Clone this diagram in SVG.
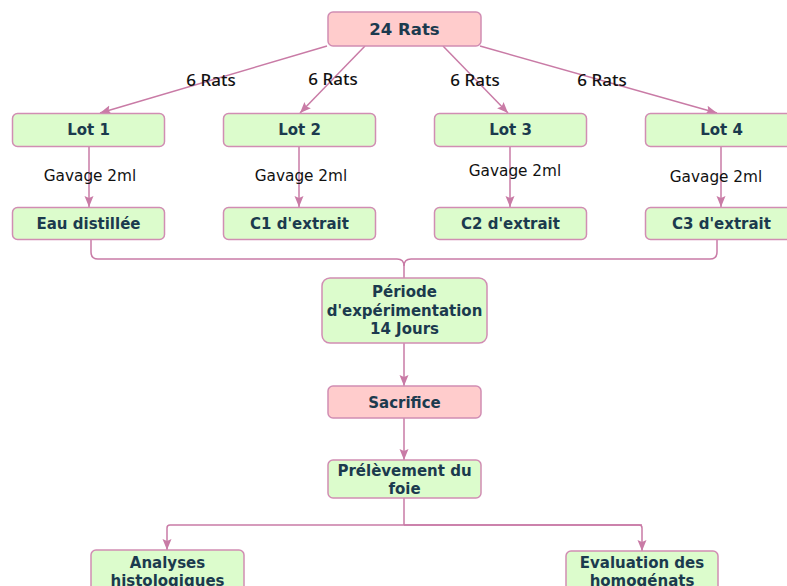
<svg xmlns="http://www.w3.org/2000/svg" width="787" height="586" viewBox="0 0 787 586">
<defs>
<style>
.g{fill:#dcfccc;stroke:#d18db3;stroke-width:1.5}
.p{fill:#ffcccc;stroke:#d18db3;stroke-width:1.5}
.t{font-family:"DejaVu Sans",sans-serif;font-weight:bold;font-size:15px;fill:#1b3a4e;text-anchor:middle;dominant-baseline:central}
.e{font-family:"DejaVu Sans",sans-serif;font-size:15.3px;fill:#111;text-anchor:middle;dominant-baseline:central}
.r{font-family:"Noto Sans",sans-serif;font-weight:500;font-size:17px;fill:#111;text-anchor:middle;dominant-baseline:central}
.c{fill:none;stroke:#c97ba6;stroke-width:1.5}
</style>
<marker id="a" markerUnits="userSpaceOnUse" markerWidth="12" markerHeight="12" viewBox="0 0 12 12" refX="11" refY="6" orient="auto">
<path d="M0,1.5 L11,6 L0,10.5 L2,6 Z" fill="#c97ba6"/>
</marker>
</defs>
<rect width="787" height="586" fill="#fff"/>
<g id="connectors">
<line class="c" x1="327" y1="46" x2="100" y2="113" marker-end="url(#a)"/>
<line class="c" x1="365" y1="46" x2="300" y2="113" marker-end="url(#a)"/>
<line class="c" x1="443" y1="46" x2="508" y2="113" marker-end="url(#a)"/>
<line class="c" x1="480" y1="46" x2="717" y2="113" marker-end="url(#a)"/>
<text class="r" x="211" y="79">6 Rats</text>
<text class="r" x="333" y="78">6 Rats</text>
<text class="r" x="475" y="79">6 Rats</text>
<text class="r" x="602" y="79">6 Rats</text>
<line class="c" x1="89" y1="146" x2="89" y2="207" marker-end="url(#a)"/>
<line class="c" x1="299" y1="146" x2="299" y2="207" marker-end="url(#a)"/>
<line class="c" x1="510" y1="146" x2="510" y2="207" marker-end="url(#a)"/>
<line class="c" x1="721" y1="146" x2="721" y2="207" marker-end="url(#a)"/>
<text class="e" x="90" y="176">Gavage 2ml</text>
<text class="e" x="301" y="176">Gavage 2ml</text>
<text class="e" x="515" y="171">Gavage 2ml</text>
<text class="e" x="716" y="177">Gavage 2ml</text>
<path class="c" d="M91,239 V252 Q91,259 98,259 H397 Q404,259 404,266 V278"/>
<path class="c" d="M717,239 V252 Q717,259 710,259 H411 Q404,259 404,266"/>
<line class="c" x1="404" y1="343" x2="404" y2="386" marker-end="url(#a)"/>
<line class="c" x1="404" y1="418" x2="404" y2="460" marker-end="url(#a)"/>
<path class="c" d="M404,498 V525"/>
<path class="c" d="M642,525 H170 Q167,525 167,528 V550" marker-end="url(#a)"/>
<path class="c" d="M404,525 H639 Q642,525 642,528 V551" marker-end="url(#a)"/>
</g>
<g id="n24"><rect class="p" x="328" y="12" width="153" height="34" rx="5"/><text class="t" x="404.5" y="29" style="font-size:16.5px">24 Rats</text></g>
<g id="lot1"><rect class="g" x="12.5" y="113.5" width="152" height="33" rx="5"/><text class="t" x="88.5" y="130">Lot 1</text></g>
<g id="lot2"><rect class="g" x="223.5" y="113.5" width="152" height="33" rx="5"/><text class="t" x="299.5" y="130">Lot 2</text></g>
<g id="lot3"><rect class="g" x="434.5" y="113.5" width="152" height="33" rx="5"/><text class="t" x="510.5" y="130">Lot 3</text></g>
<g id="lot4"><rect class="g" x="645.5" y="113.5" width="152" height="33" rx="5"/><text class="t" x="721.5" y="130">Lot 4</text></g>
<g id="eau"><rect class="g" x="12.5" y="207.5" width="152" height="32" rx="5"/><text class="t" x="88.5" y="223.5">Eau distillée</text></g>
<g id="c1"><rect class="g" x="223.5" y="207.5" width="152" height="32" rx="5"/><text class="t" x="299.5" y="223.5">C1 d'extrait</text></g>
<g id="c2"><rect class="g" x="434.5" y="207.5" width="152" height="32" rx="5"/><text class="t" x="510.5" y="223.5">C2 d'extrait</text></g>
<g id="c3"><rect class="g" x="645.5" y="207.5" width="152" height="32" rx="5"/><text class="t" x="721.5" y="223.5">C3 d'extrait</text></g>
<g id="periode"><rect class="g" x="322" y="278" width="165" height="65" rx="8"/><text class="t" x="404.5" y="292">Période</text><text class="t" x="404.5" y="311">d'expérimentation</text><text class="t" x="404.5" y="329">14 Jours</text></g>
<g id="sacrifice"><rect class="p" x="328" y="386" width="153" height="32" rx="5"/><text class="t" x="404.5" y="403">Sacrifice</text></g>
<g id="prelevement"><rect class="g" x="328" y="460" width="153" height="38" rx="5"/><text class="t" x="404.5" y="471">Prélèvement du</text><text class="t" x="404.5" y="489">foie</text></g>
<g id="analyses"><rect class="g" x="91" y="550" width="153" height="50" rx="5"/><text class="t" x="167.5" y="563">Analyses</text><text class="t" x="167.5" y="581">histologiques</text></g>
<g id="evaluation"><rect class="g" x="566" y="551" width="152" height="50" rx="5"/><text class="t" x="642" y="563">Evaluation des</text><text class="t" x="642" y="581">homogénats</text></g>
</svg>
